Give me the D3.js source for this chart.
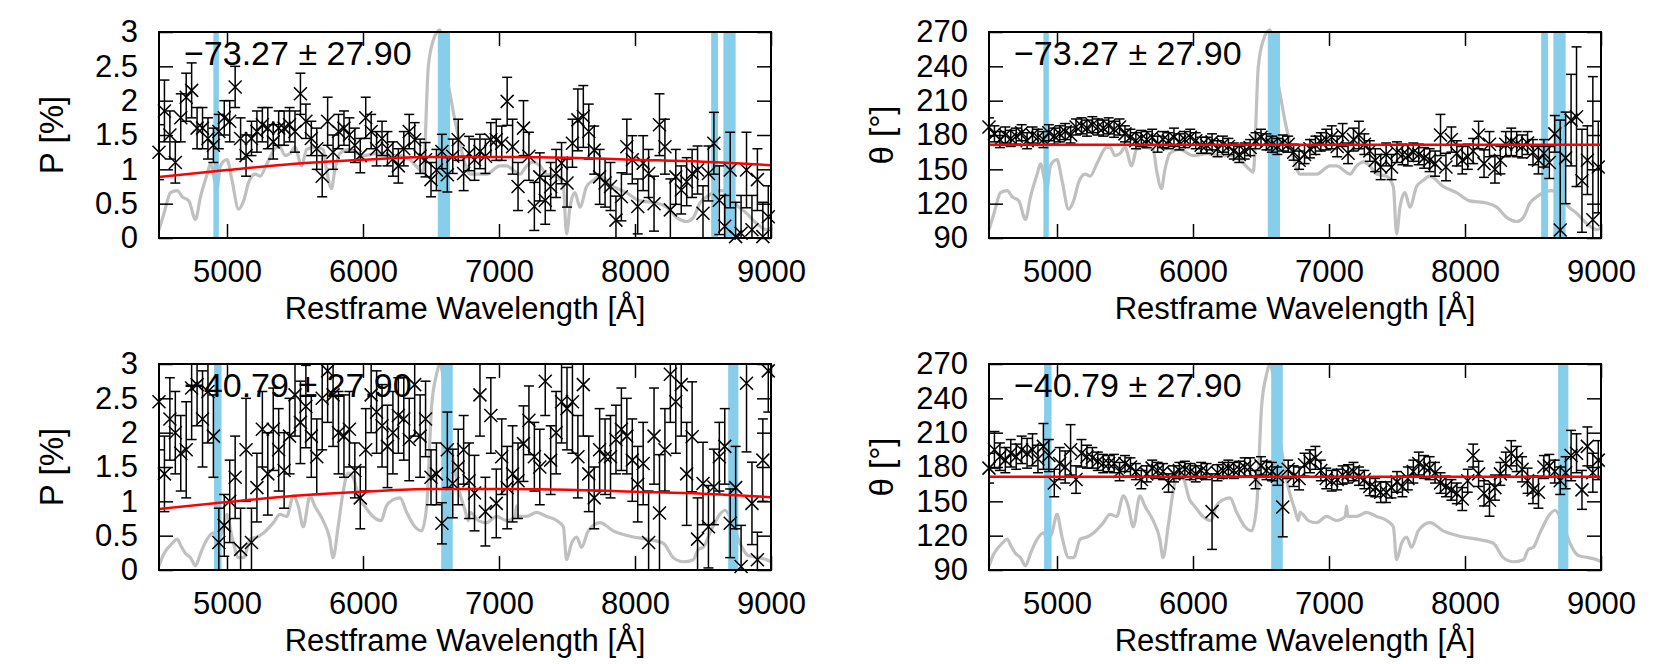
<!DOCTYPE html>
<html>
<head>
<meta charset="utf-8">
<script src="https://cdn.jsdelivr.net/npm/d3@7"></script>
<style>
  body { margin: 0; background: #fff; }
  svg { font-family: "Liberation Sans", Arial, Helvetica, sans-serif; }
  .tick line { stroke: #000; stroke-width: 1.5; }
  .tick text { font-size: 31px; fill: #000; }
</style>
</head>
<body>
<svg id="chart" width="1661" height="664"></svg>
<script>
// wavelength of every binned measurement [A]
const wavelengths = [
  4500,4540,4580,4620,4660,4700,4740,4780,4820,4860,
  4900,4940,4980,5020,5060,5100,5140,5180,5220,5260,
  5300,5340,5380,5420,5460,5500,5540,5580,5620,5660,
  5700,5740,5780,5820,5860,5900,5940,5980,6020,6060,
  6100,6140,6180,6220,6260,6300,6340,6380,6420,6460,
  6500,6540,6580,6620,6660,6700,6740,6780,6820,6860,
  6900,6940,6980,7020,7060,7100,7140,7180,7220,7260,
  7300,7340,7380,7420,7460,7500,7540,7580,7620,7660,
  7700,7740,7780,7820,7860,7900,7940,7980,8020,8060,
  8100,8140,8180,8220,8260,8300,8340,8380,8420,8460,
  8500,8540,8580,8620,8660,8700,8740,8780,8820,8860,
  8900,8940,8980
];

// top row: polarisation degree [%] and error
const topP = [
  1.25,1.85,1.5,1.1,1.75,2.05,2.15,1.6,1.6,1.45,
  1.35,1.55,1.75,1.7,2.2,1.45,1.2,1.45,1.55,1.65,
  1.6,1.4,1.6,1.6,1.65,1.55,2.1,1.7,1.45,1.3,
  0.9,1.7,1.25,1.55,1.6,1.5,1.35,1.2,1.75,1.55,
  1.3,1.45,1.3,1.15,1.05,1.3,1.55,1.43,1.19,1.14,
  0.85,0.99,1.26,0.92,1.19,1.43,0.94,1.23,1.14,1.26,
  1.19,1.43,1.43,1.38,1.99,1.33,0.75,1.6,1.19,0.46,
  0.89,0.55,0.75,0.94,1.09,0.8,1.38,1.72,1.77,1.55,
  1.28,0.89,0.8,0.75,0.26,0.6,1.33,1.14,0.46,1.09,
  0.94,0.5,1.65,1.33,0.41,0.89,0.7,0.82,0.94,0.99,
  0.36,0.94,1.38,0.55,0.17,0.99,0.02,0.07,0.99,0.12,
  0.85,0.02,0.31
];
const topPErr = [
  .4,.45,.35,.3,.35,.35,.4,.3,.3,.3,
  .25,.25,.25,.3,.3,.3,.3,.25,.3,.25,
  .3,.25,.25,.25,.25,.3,.3,.25,.25,.3,
  .3,.35,.25,.25,.25,.25,.25,.25,.3,.25,
  .25,.25,.25,.25,.25,.25,.25,.25,.25,.25,
  .25,.3,.25,.25,.25,.3,.25,.25,.3,.25,
  .25,.25,.3,.25,.35,.4,.35,.4,.35,.35,
  .35,.35,.35,.35,.3,.35,.35,.45,.45,.4,
  .35,.4,.35,.35,.35,.35,.4,.35,.4,.4,
  .35,.4,.45,.4,.45,.4,.35,.35,.35,.35,
  .4,.4,.45,.5,.45,.55,.5,.55,.55,.5,
  .45,.5,.45
];

// top row: polarisation angle [deg] and error
const topTheta = [
  187,181,176,180,177,179,182,175,180,178,
  176,182,179,181,183,180,187,188,186,189,
  187,186,188,185,187,181,178,175,177,176,
  178,172,176,175,178,174,176,178,175,171,
  171,174,168,172,170,166,163,166,169,175,
  178,174,172,170,173,172,165,158,163,168,
  171,174,176,178,170,180,164,176,180,172,
  166,158,152,163,152,165,163,162,165,163,
  160,158,155,180,152,176,164,158,161,166,
  180,155,172,150,158,172,174,172,170,173,
  165,158,164,156,181,97,160,193,196,140,
  158,106,152
];
const topThetaErr = [
  8,7,7,7,7,7,7,7,7,7,
  7,7,7,7,7,7,7,7,7,7,
  7,7,7,7,7,7,7,7,7,7,
  7,7,7,7,8,7,7,7,7,7,
  7,7,7,7,7,7,7,7,7,7,
  7,7,7,7,7,7,7,8,8,8,
  8,8,9,10,9,10,9,10,12,9,
  9,10,11,10,11,9,9,9,8,9,
  9,10,11,18,12,11,11,12,11,11,
  12,12,11,12,12,11,12,11,10,10,
  11,12,12,14,16,96,40,40,61,45,
  30,125,40
];

// bottom row: polarisation degree [%] and error
const botP = [
  2.45,1.4,2.2,2.0,1.7,1.75,2.65,2.7,2.2,2.6,
  1.95,0.4,0.65,1.0,1.35,0.3,1.75,0.4,1.2,2.05,
  1.4,2.05,1.75,1.45,1.95,2.55,2.15,2.38,1.95,1.65,
  2.5,2.9,2.55,2.0,1.95,2.05,1.45,1.05,1.75,2.55,
  2.3,2.1,1.8,2.0,2.25,2.2,1.9,2.7,1.95,2.2,
  1.35,1.4,0.68,1.75,1.26,1.5,1.75,1.3,1.12,2.55,
  0.85,2.25,0.97,1.65,1.2,1.4,1.3,1.84,2.18,1.65,
  1.5,2.75,1.6,2.0,2.45,2.35,2.45,1.65,2.7,1.4,
  1.05,1.75,1.65,1.65,1.9,2.05,1.95,1.6,1.25,1.55,
  0.4,1.95,0.83,1.75,2.85,2.45,2.7,1.4,1.94,0.45,
  1.26,0.63,1.21,1.65,1.8,0.68,1.2,0.05,2.72,0.97,
  0.15,1.6,2.9
];
const botPErr = [
  .7,.55,.6,.6,.55,.7,.75,.6,.7,.75,
  .6,.5,.45,.6,.6,.6,.75,.5,.5,.55,
  .6,.6,.6,.55,.55,.6,.6,.6,.6,.55,
  .75,.75,.75,.6,.6,.55,.4,.45,.6,.55,
  .6,.6,.6,.6,.55,.6,.6,.75,.6,.55,
  .4,.45,.3,.55,.5,.55,.5,.55,.55,.6,
  .5,.55,.5,.55,.6,.7,.55,.55,.5,.5,
  .55,.5,.5,.6,.6,.6,.75,.6,.75,.55,
  .45,.6,.55,.6,.5,.6,.55,.6,.55,.6,
  .75,.7,.85,.6,.7,.75,.75,.75,.8,.6,
  .6,.6,.55,.5,.55,.5,.6,.6,1.0,.6,
  .4,.6,.6
];

// bottom row: polarisation angle [deg] and error
const botTheta = [
  179,195,189,186,192,189,195,192,195,187,
  198,190,166,183,180,195,169,192,189,188,
  185,183,183,183,176,183,180,176,169,174,
  179,177,176,166,174,177,178,176,174,177,
  176,141,175,177,179,177,178,180,180,169,
  181,177,176,172,145,178,172,170,182,185,
  188,177,170,168,169,173,174,176,172,169,
  163,162,158,158,162,167,163,170,176,183,
  180,179,175,166,163,160,157,152,168,190,
  174,157,151,162,174,183,192,187,178,168,
  160,158,180,181,176,168,175,190,192,160,
  198,175,186
];
const botThetaErr = [
  13,16,12,11,12,11,12,13,14,12,
  20,14,12,14,14,22,12,12,10,9,
  8,8,7,8,8,7,8,7,8,7,
  7,7,7,8,7,7,7,7,7,7,
  7,33,7,7,7,7,7,8,8,8,
  8,8,8,8,26,8,9,10,10,10,
  10,9,9,9,9,8,8,8,8,8,
  8,8,9,9,9,9,9,10,10,10,
  10,10,9,9,9,9,9,10,10,10,
  11,11,14,11,10,10,11,11,11,11,
  12,14,10,10,10,12,14,22,17,17,
  17,17,17
];

// total flux spectra (normalised), drawn in grey behind the data
const topFluxWave = [4500,4537,4585,4634,4671,4720,4768,4805,4854,4878,4927,4951,5000,5037,5085,5122,5159,5207,5244,5293,5366,5390,5427,5463,5500,5549,5585,5646,5707,5732,5768,5793,5829,5902,6000,6100,6200,6272,6345,6419,6443,6480,6517,6566,6603,6640,6676,6713,6750,6787,6836,6909,7007,7056,7105,7154,7203,7252,7301,7350,7424,7473,7497,7522,7558,7595,7644,7693,7742,7840,7938,8036,8159,8233,8306,8380,8429,8478,8527,8576,8637,8698,8748,8821,8895,8968,9000];
const topFlux = [.04,.12,.22,.23,.20,.18,.09,.20,.31,.36,.24,.35,.38,.28,.14,.18,.27,.31,.30,.36,.44,.44,.40,.41,.44,.35,.43,.44,.43,.33,.24,.33,.41,.43,.40,.41,.40,.40,.38,.33,.32,.83,.96,1.01,.83,.70,.57,.46,.36,.31,.31,.31,.35,.35,.33,.31,.35,.37,.35,.31,.30,.25,.02,.15,.22,.15,.25,.28,.30,.25,.22,.18,.17,.15,.10,.08,.10,.17,.20,.22,.23,.21,.16,.12,.07,.04,.05];

const botFluxWave = [4500,4537,4598,4634,4659,4695,4732,4768,4805,4854,4902,4927,4963,5000,5037,5085,5122,5171,5220,5268,5341,5390,5439,5488,5524,5561,5610,5646,5707,5756,5780,5817,5854,5890,5927,5976,6012,6073,6134,6171,6220,6272,6321,6382,6431,6468,6504,6541,6566,6603,6652,6701,6750,6774,6787,6848,6909,6982,7056,7120,7129,7138,7203,7276,7350,7424,7473,7497,7534,7571,7607,7656,7742,7840,7987,8085,8208,8282,8355,8429,8466,8502,8551,8613,8662,8711,8772,8833,8907,8968,9000];
const botFlux = [.02,.08,.13,.15,.12,.08,.06,.02,.08,.15,.18,.15,.18,.27,.16,.06,.06,.15,.16,.18,.23,.27,.26,.36,.31,.21,.36,.31,.24,.15,.06,.21,.38,.47,.45,.34,.31,.26,.24,.31,.34,.35,.28,.21,.19,.31,.79,.95,1.0,.87,.58,.40,.29,.24,.28,.24,.23,.26,.24,.26,.31,.26,.26,.28,.26,.24,.21,.05,.13,.16,.11,.19,.23,.19,.16,.15,.13,.06,.04,.05,.10,.11,.18,.26,.29,.24,.13,.07,.06,.05,.04];

// masked line regions [A]
const topBands = [[4900, 4940], [6550, 6640], [8560, 8610], [8650, 8740]];
const botBands = [[4905, 4960], [6575, 6660], [8685, 8760]];

// fitted model curves
const pFitWave = [4500, 5000, 5500, 6000, 6500, 7000, 7500, 8000, 8500, 9000];
const pFit = [0.89, 0.99, 1.08, 1.14, 1.18, 1.18, 1.17, 1.14, 1.11, 1.06];
const thetaFitWave = [4500, 9000];
const thetaFit = [171.5, 171.5];

const pTicks = [0, 0.5, 1, 1.5, 2, 2.5, 3];
const thetaTicks = [90, 120, 150, 180, 210, 240, 270];
const xTicks = [5000, 6000, 7000, 8000, 9000];
const topNote = "\u221273.27 \u00b1 27.90";
const botNote = "\u221240.79 \u00b1 27.90";

const svg = d3.select("#chart");
svg.append("rect").attr("width", 1661).attr("height", 664).attr("fill", "#fff");

const W = 612, H = 206;

function drawPanel(id, left, top, yDomain, yTicks, yLabel, labelX, vals, errs, fluxW, flux, bands, fitW, fit, note) {
  const g = svg.append("g").attr("transform", `translate(${left},${top})`);

  const x = d3.scaleLinear().domain([4500, 9000]).range([0, W]);
  const y = d3.scaleLinear().domain(yDomain).range([H, 0]);
  const yFlux = d3.scaleLinear().domain([0, 1]).range([H, 0]);

  g.append("clipPath").attr("id", "clip" + id)
    .append("rect").attr("width", W).attr("height", H);

  // grey spectrum
  g.append("path")
    .datum(fluxW.map((w, i) => [w, flux[i]]))
    .attr("fill", "none")
    .attr("stroke", "#c0c0c0")
    .attr("stroke-width", 3.2)
    .attr("stroke-linejoin", "round")
    .attr("d", d3.line().curve(d3.curveMonotoneX).x(d => x(d[0])).y(d => yFlux(d[1])));

  // blue bands
  g.selectAll(".band")
    .data(bands)
    .enter().append("rect")
    .attr("class", "band")
    .attr("x", d => x(d[0]))
    .attr("y", 0)
    .attr("width", d => x(d[1]) - x(d[0]))
    .attr("height", H)
    .attr("fill", "#87ceeb");

  g.append("text")
    .attr("x", 25)
    .attr("y", 33)
    .style("font-size", "34px")
    .text(note);

  const pts = wavelengths.map((w, i) => ({ w: w, v: vals[i], e: errs[i] }));

  // error bars
  const bars = g.append("g").attr("clip-path", `url(#clip${id})`)
    .attr("stroke", "#000").attr("stroke-width", 1.5);
  pts.forEach(d => {
    const cx = x(d.w), y0 = y(d.v - d.e), y1 = y(d.v + d.e);
    bars.append("line").attr("x1", cx).attr("x2", cx).attr("y1", y0).attr("y2", y1);
    bars.append("line").attr("x1", cx - 5).attr("x2", cx + 5).attr("y1", y0).attr("y2", y0);
    bars.append("line").attr("x1", cx - 5).attr("x2", cx + 5).attr("y1", y1).attr("y2", y1);
  });

  // cross markers
  const marks = g.append("g").attr("stroke", "#000").attr("stroke-width", 1.5);
  pts.forEach(d => {
    const cx = x(d.w), cy = y(d.v), s = 6.5;
    marks.append("path").attr("d", `M${cx - s},${cy - s}L${cx + s},${cy + s}M${cx - s},${cy + s}L${cx + s},${cy - s}`);
  });

  // fit
  g.append("path")
    .datum(fitW.map((w, i) => [w, fit[i]]))
    .attr("fill", "none")
    .attr("stroke", "#ff0000")
    .attr("stroke-width", 2.5)
    .attr("d", d3.line().curve(d3.curveMonotoneX).x(d => x(d[0])).y(d => y(d[1])));

  // axes, ticks pointing inward
  const ax = (a) => a.tickSizeInner(-14).tickSizeOuter(0);
  g.append("g").call(ax(d3.axisLeft(y)).tickValues(yTicks).tickPadding(21).tickFormat(d => String(d)));
  g.append("g").attr("transform", `translate(${W},0)`).call(ax(d3.axisRight(y)).tickValues(yTicks).tickFormat(""));
  g.append("g").attr("transform", `translate(0,${H})`).call(ax(d3.axisBottom(x)).tickValues(xTicks).tickPadding(22).tickFormat(d => String(d)));
  g.append("g").call(ax(d3.axisTop(x)).tickValues(xTicks).tickFormat(""));
  g.selectAll(".domain").remove();

  g.append("rect").attr("width", W).attr("height", H)
    .attr("fill", "none").attr("stroke", "#000").attr("stroke-width", 2);

  // axis titles
  g.append("text")
    .attr("x", W / 2)
    .attr("y", 81)
    .attr("transform", `translate(0,${H})`)
    .attr("text-anchor", "middle")
    .style("font-size", "31px")
    .text("Restframe Wavelength [\u00c5]");

  g.append("text")
    .attr("transform", `translate(${labelX - left},${H / 2}) rotate(-90)`)
    .attr("text-anchor", "middle")
    .attr("dy", "0.35em")
    .style("font-size", "33px")
    .text(yLabel);
}

drawPanel("a", 159, 32, [0, 3], pTicks, "P [%]", 51, topP, topPErr, topFluxWave, topFlux, topBands, pFitWave, pFit, topNote);
drawPanel("b", 989, 32, [90, 270], thetaTicks, "\u03b8 [\u00b0]", 881, topTheta, topThetaErr, topFluxWave, topFlux, topBands, thetaFitWave, thetaFit, topNote);
drawPanel("c", 159, 364, [0, 3], pTicks, "P [%]", 51, botP, botPErr, botFluxWave, botFlux, botBands, pFitWave, pFit, botNote);
drawPanel("d", 989, 364, [90, 270], thetaTicks, "\u03b8 [\u00b0]", 881, botTheta, botThetaErr, botFluxWave, botFlux, botBands, thetaFitWave, thetaFit, botNote);
</script>
</body>
</html>
